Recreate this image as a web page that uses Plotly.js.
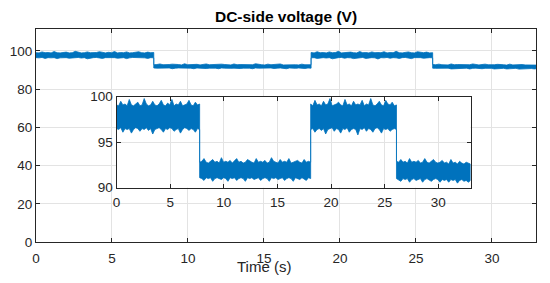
<!DOCTYPE html>
<html>
<head>
<meta charset="utf-8">
<script src="https://cdn.plot.ly/plotly-3.0.1.min.js"></script>
<style>
  html, body { margin: 0; padding: 0; background: #fff; }
  #graph { width: 550px; height: 283px; }
</style>
</head>
<body>
<div id="graph"></div>
<script>
// switching instants (s) of the DC-side voltage
const segStart = [0, 7.75, 18.1, 26.1];
const segEnd = [7.75, 18.1, 26.1, 33];

// upper / lower envelope of the noisy voltage band (V)
const upper1 = [99.1, 99.0, 99.5, 99.1, 99.2, 99.0, 99.7, 99.1, 99.0, 99.2, 99.4, 99.0, 99.1, 99.8, 99.2, 99.0, 99.1, 99.5, 99.1, 99.0, 99.2, 99.6, 99.1, 99.0, 99.3, 99.1, 99.7, 99.0, 99.2, 99.1, 99.5, 99.0, 99.1, 99.2, 99.6, 99.1, 99.0, 99.4, 99.1, 99.2];
const lower1 = [96.5, 96.4, 96.6, 96.1, 96.5, 96.4, 96.5, 96.0, 96.4, 96.6, 96.5, 96.2, 96.5, 96.4, 96.6, 96.3, 96.5, 95.9, 96.4, 96.5, 96.6, 96.4, 96.1, 96.5, 96.4, 96.6, 96.5, 96.2, 96.4, 96.5, 96.0, 96.4, 96.6, 96.5, 96.3, 96.5, 96.4, 96.1, 96.5, 96.4];
const upper2 = [92.8, 92.9, 93.2, 92.8, 92.7, 92.9, 93.1, 92.8, 92.9, 92.7, 93.3, 92.8, 92.9, 92.8, 93.0, 92.7, 92.9, 93.2, 92.8, 92.9, 92.7, 92.8, 93.1, 92.9, 92.8, 92.7, 93.2, 92.8, 92.9, 92.8, 93.0, 92.7, 92.8, 93.3, 92.9, 92.8, 92.7, 93.1, 92.8, 92.9, 92.8, 93.2, 92.7, 92.8, 92.9, 93.0, 92.8, 92.7, 93.1, 92.8, 92.9, 92.8];
const lower2 = [91.1, 91.0, 90.8, 91.1, 91.0, 91.1, 90.7, 91.0, 91.1, 91.0, 90.9, 91.1, 91.0, 90.7, 91.1, 91.0, 91.1, 90.8, 91.0, 91.1, 91.0, 90.7, 91.1, 91.0, 91.1, 90.9, 91.0, 91.1, 90.8, 91.0, 91.1, 91.0, 90.7, 91.1, 91.0, 91.1, 90.9, 91.0, 91.1, 90.8, 91.0, 91.1, 91.0, 90.7, 91.1, 91.0, 90.9, 91.1, 91.0, 90.8, 91.1, 91.0];
const upper3 = [99.2, 99.0, 99.6, 99.1, 99.2, 99.0, 99.5, 99.1, 99.2, 99.8, 99.0, 99.1, 99.2, 99.4, 99.1, 99.0, 99.7, 99.1, 99.2, 99.0, 99.5, 99.1, 99.2, 99.1, 99.6, 99.0, 99.2, 99.1, 99.8, 99.1, 99.0, 99.2, 99.5, 99.1, 99.0, 99.6, 99.2, 99.1, 99.4, 99.0, 99.1];
const lower3 = [96.4, 96.5, 96.1, 96.4, 96.5, 96.3, 96.5, 95.9, 96.4, 96.5, 96.6, 96.2, 96.5, 96.4, 96.0, 96.5, 96.4, 96.6, 96.1, 96.4, 96.5, 96.4, 95.8, 96.5, 96.4, 96.6, 96.2, 96.5, 96.4, 96.1, 96.5, 96.6, 96.4, 96.0, 96.5, 96.4, 96.5, 96.2, 96.4, 96.5, 96.4];
const upper4 = [92.9, 92.8, 93.1, 92.8, 92.9, 92.7, 93.2, 92.8, 92.9, 92.8, 93.0, 92.7, 92.8, 93.2, 92.8, 92.7, 92.9, 93.1, 92.8, 92.7, 92.8, 93.0, 92.7, 92.8, 92.6, 93.1, 92.7, 92.8, 92.6, 92.9, 92.7, 92.6, 92.8, 92.7, 92.6];
const lower4 = [91.0, 90.9, 90.7, 91.0, 90.9, 91.0, 90.6, 90.9, 91.0, 90.8, 90.9, 91.0, 90.6, 90.9, 91.0, 90.9, 90.7, 90.9, 91.0, 90.9, 90.6, 90.9, 90.8, 90.9, 90.6, 90.9, 90.8, 90.9, 90.5, 90.8, 90.9, 90.7, 90.8, 90.6, 90.8];

const mainTicksX = [0, 5, 10, 15, 20, 25, 30];
const mainTicksY = [0, 20, 40, 60, 80, 100];
const insetTicksY = [90, 95, 100];

const uppers = [upper1, upper2, upper3, upper4];
const lowers = [lower1, lower2, lower3, lower4];

// spread one envelope segment evenly over its time span
function segmentTimes(s, n) {
    const dt = (segEnd[s] - segStart[s]) / (n - 1);
    let ts = [];
    for (let i = 0; i < n; i++) ts.push(segStart[s] + i * dt);
    return ts;
}

// build one closed band: upper edge forwards, lower edge backwards
let topX = [], topY = [], botX = [], botY = [];
for (let s = 0; s < segStart.length; s++) {
    topX = topX.concat(segmentTimes(s, uppers[s].length));
    topY = topY.concat(uppers[s]);
    botX = botX.concat(segmentTimes(s, lowers[s].length));
    botY = botY.concat(lowers[s]);
}
const bandX = topX.concat(botX.slice().reverse());
const bandY = topY.concat(botY.slice().reverse());

const blue = '#0072BD';
const axisColor = '#262626';
const gridColor = '#e3e3e3';

const mainTrace = {
    x: bandX, y: bandY,
    type: 'scatter', mode: 'lines',
    fill: 'toself', fillcolor: blue,
    line: { color: blue, width: 0.8 },
    xaxis: 'x', yaxis: 'y',
    hoverinfo: 'skip'
};
const insetTrace = Object.assign({}, mainTrace, { xaxis: 'x2', yaxis: 'y2' });

const tickFont = { family: 'Liberation Sans, Arial, sans-serif', size: 13.5, color: axisColor };

const axisCommon = {
    showline: true, linecolor: axisColor, linewidth: 1, mirror: 'ticks',
    ticks: 'inside', ticklen: 4, tickcolor: axisColor,
    showgrid: true, gridcolor: gridColor, gridwidth: 1,
    zeroline: false, tickfont: tickFont
};

const layout = {
    width: 550, height: 283,
    margin: { l: 36, r: 14, t: 29, b: 41 },
    paper_bgcolor: '#fff', plot_bgcolor: '#fff',
    showlegend: false,
    title: {
        text: '<b>DC-side voltage (V)</b>',
        font: { family: 'Liberation Sans, Arial, sans-serif', size: 15.5, color: '#000' },
        x: 0.52, xanchor: 'center', y: 0.94, yanchor: 'middle'
    },
    xaxis: Object.assign({}, axisCommon, {
        domain: [0, 1], range: [0, 32.9], tickvals: mainTicksX,
        ticklabelstandoff: 4
    }),
    yaxis: Object.assign({}, axisCommon, {
        domain: [0, 1], range: [0, 111.5], tickvals: mainTicksY
    }),
    xaxis2: Object.assign({}, axisCommon, {
        domain: [0.161, 0.869], range: [0, 33], tickvals: mainTicksX,
        anchor: 'y2', ticklabelstandoff: 2
    }),
    yaxis2: Object.assign({}, axisCommon, {
        domain: [0.255, 0.682], range: [90, 100], tickvals: insetTicksY,
        anchor: 'x2'
    }),
    annotations: [{
        text: 'Time (s)', xref: 'paper', yref: 'paper',
        x: 0.455, y: -0.115, xanchor: 'center', yanchor: 'middle',
        showarrow: false,
        font: { family: 'Liberation Sans, Arial, sans-serif', size: 15, color: axisColor }
    }]
};

Plotly.newPlot('graph', [mainTrace, insetTrace], layout, { staticPlot: true });
</script>
</body>
</html>
